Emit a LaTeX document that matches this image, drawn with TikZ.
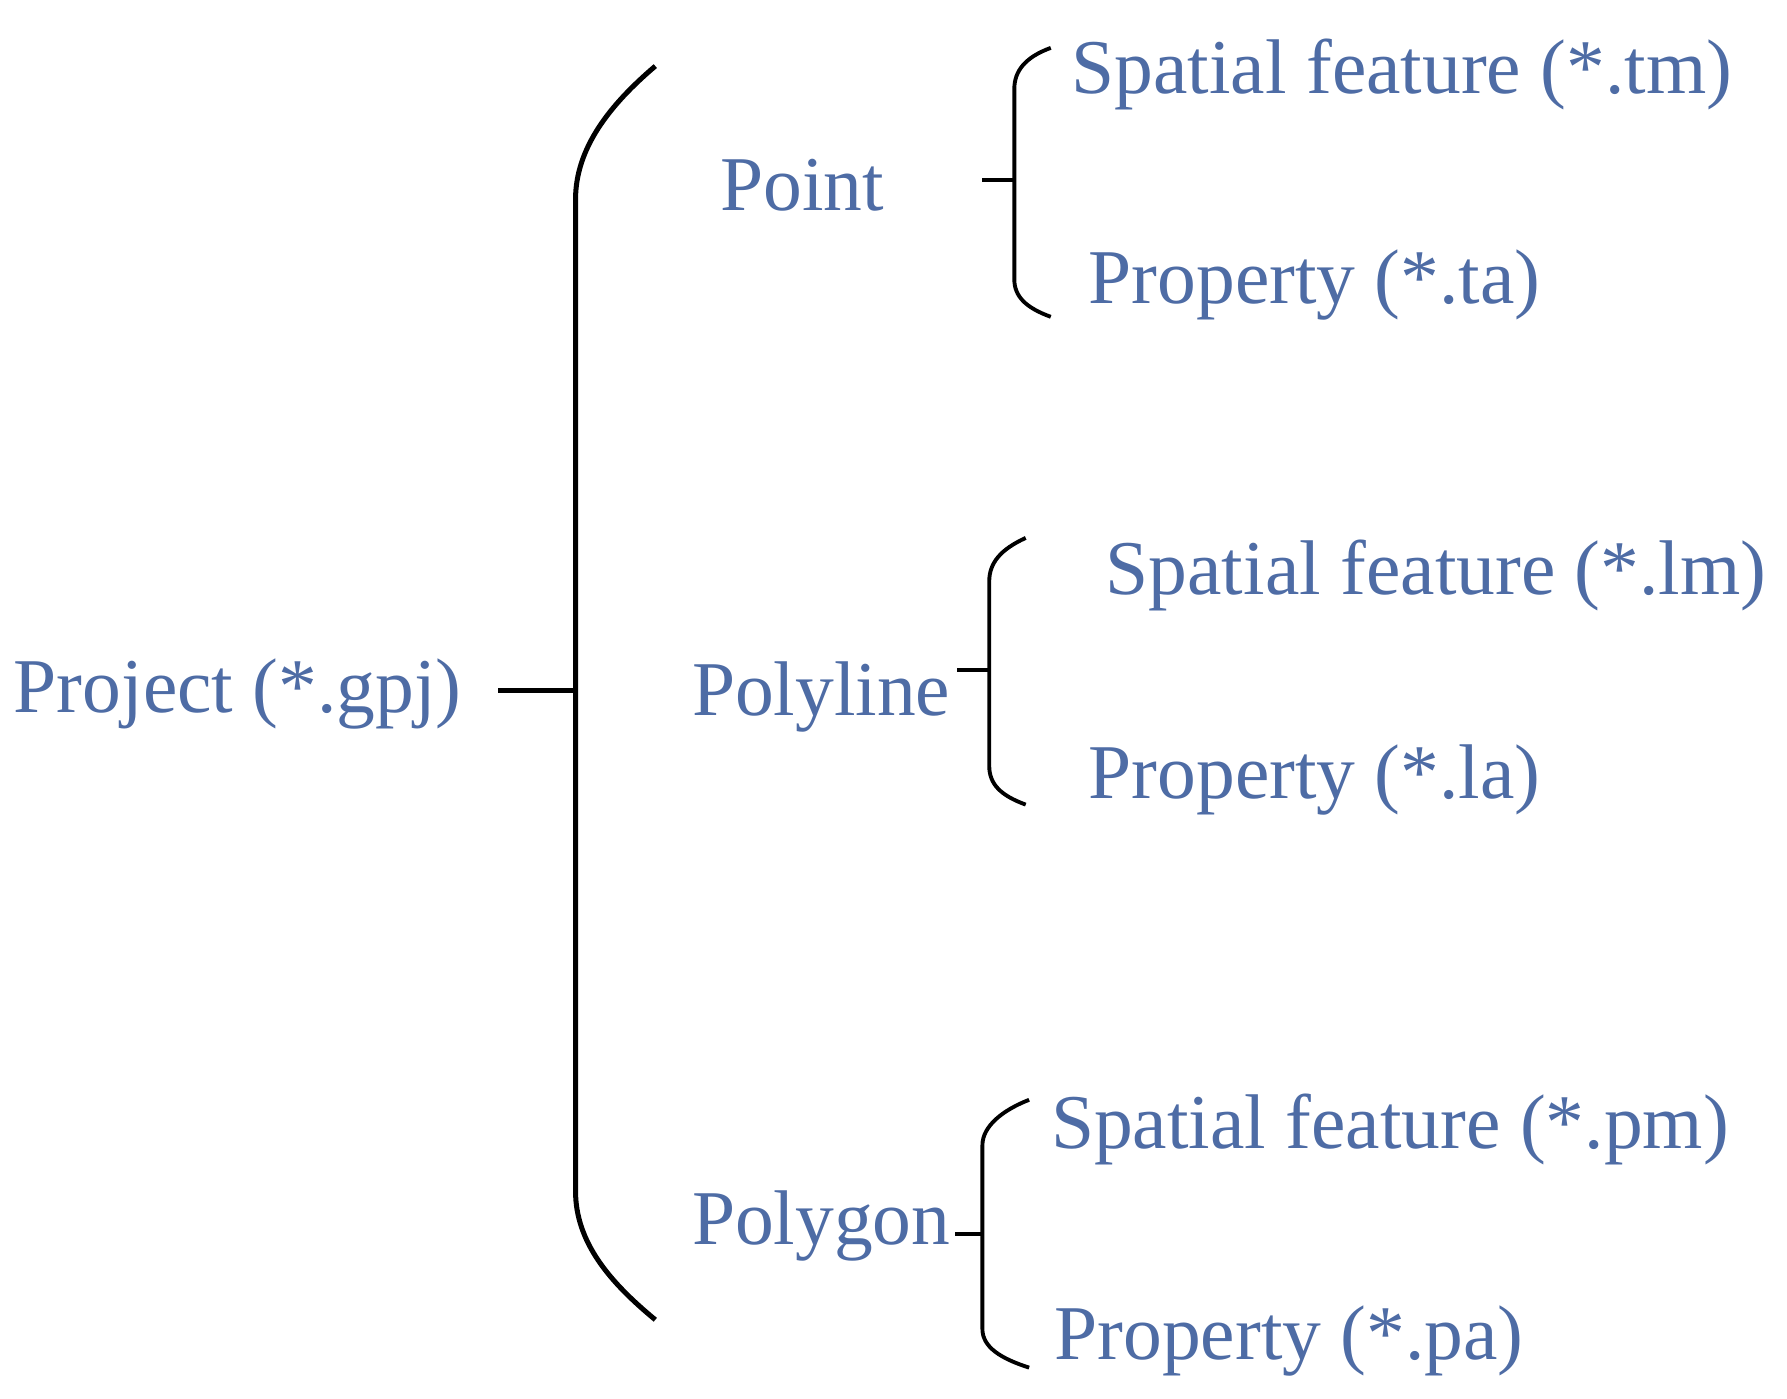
\documentclass[tikz,border=0pt]{standalone}
\usepackage{fontspec}
\setmainfont{Liberation Serif}
\definecolor{txtblue}{RGB}{78,108,165}
\begin{document}
\begin{tikzpicture}[x=1pt,y=-1pt,
  lbl/.style={anchor=base west,inner sep=0pt,text=txtblue,font=\fontsize{68}{80}\selectfont},
  bigbr/.style={draw=black,line width=4.4pt},
  smallbr/.style={draw=black,line width=3.4pt}]
\useasboundingbox (0,0) rectangle (1568,1227);
% labels
\node[lbl] (proj) at (12,625) {Project (*.gpj)};
\node[lbl] (point) at (632,185) {Point};
\node[lbl] (polyline) at (607,628) {Polyline};
\node[lbl] (polygon) at (607,1092) {Polygon};
\node[lbl] (tm) at (940,82) {Spatial feature (*.tm)};
\node[lbl] (ta) at (955,266) {Property (*.ta)};
\node[lbl] (lm) at (970,522) {Spatial feature (*.lm)};
\node[lbl] (la) at (955,701) {Property (*.la)};
\node[lbl] (pm) at (922,1008) {Spatial feature (*.pm)};
\node[lbl] (pa) at (925,1193) {Property (*.pa)};
% coordinates
\coordinate (ps) at (437,606);
\coordinate (pj) at (505,606);
\coordinate (bt) at (575,58);
\coordinate (bb) at (575,1158);
\coordinate (p1s) at (862,158);
\coordinate (p1j) at (890,158);
\coordinate (p1t) at (922,42);
\coordinate (p1b) at (922,278);
\coordinate (p2s) at (840,588);
\coordinate (p2j) at (868,588);
\coordinate (p2t) at (900,472);
\coordinate (p2b) at (900,706);
\coordinate (p3s) at (838,1083);
\coordinate (p3j) at (862,1083);
\coordinate (p3t) at (903,965);
\coordinate (p3b) at (903,1200);
% big bracket
\draw[bigbr] (ps) -- (pj);
\draw[bigbr] (bt) .. controls (535,92) and (505,130) .. (505,175) -- (505,1045) .. controls (505,1090) and (535,1125) .. (bb);
% small brackets
\draw[smallbr] (p1s) -- (p1j);
\draw[smallbr] (p1t) .. controls (900,50) and (890,62) .. (890,78) -- (890,245) .. controls (890,260) and (900,270) .. (p1b);
\draw[smallbr] (p2s) -- (p2j);
\draw[smallbr] (p2t) .. controls (878,482) and (868,494) .. (868,510) -- (868,672) .. controls (868,688) and (878,698) .. (p2b);
\draw[smallbr] (p3s) -- (p3j);
\draw[smallbr] (p3t) .. controls (880,974) and (862,988) .. (862,1005) -- (862,1166) .. controls (862,1182) and (878,1192) .. (p3b);
\end{tikzpicture}
\end{document}
